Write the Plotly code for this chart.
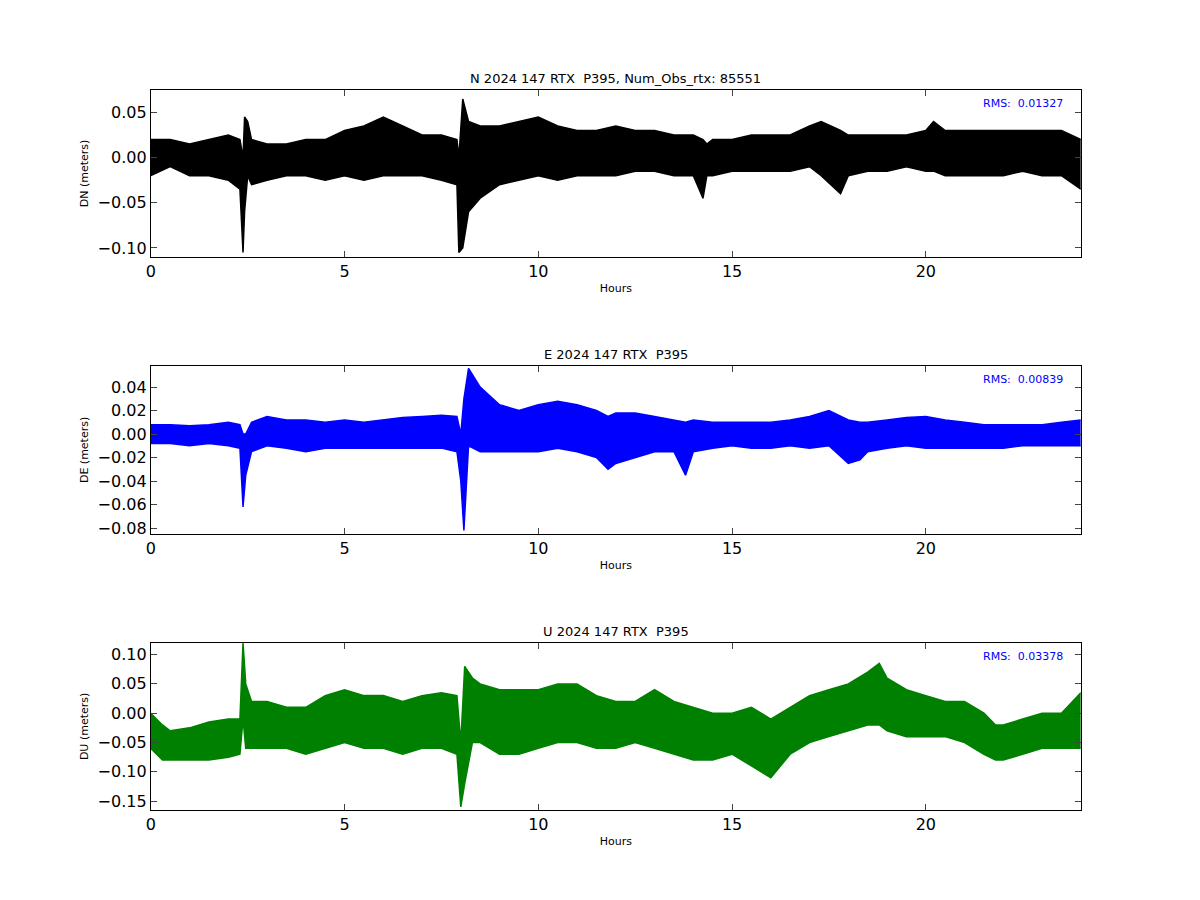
import plotly.graph_objects as go

# envelope of the scatter cloud (hours, upper, lower)
t_n = [0,0.5,1,1.5,2,2.3,2.38,2.42,2.5,2.6,3,3.5,4,4.5,5,5.5,6,6.5,7,7.5,7.9,7.95,8.05,8.2,8.5,9,9.5,10,10.5,11,
       11.5,12,12.5,13,13.5,14,14.25,14.35,14.5,15,15.5,16,16.5,17,17.3,17.8,18,18.5,19,19.5,20,20.2,20.5,21,21.5,22,22.5,23,23.5,24]
up_n = [0.02,0.02,0.015,0.02,0.025,0.02,0.0,0.045,0.04,0.02,0.015,0.015,0.02,0.02,0.03,0.035,0.045,0.035,0.025,0.025,
        0.02,0.0,0.065,0.04,0.035,0.035,0.04,0.045,0.035,0.03,0.03,0.035,0.03,0.03,0.025,0.025,0.02,0.015,0.02,0.02,
        0.025,0.025,0.025,0.035,0.04,0.03,0.025,0.025,0.025,0.025,0.03,0.04,0.03,0.03,0.03,0.03,0.03,0.03,0.03,0.02]
lo_n = [-0.02,-0.01,-0.02,-0.02,-0.025,-0.035,-0.105,-0.06,-0.02,-0.03,-0.025,-0.02,-0.02,-0.025,-0.02,-0.025,-0.02,-0.02,-0.02,-0.025,
        -0.03,-0.105,-0.1,-0.06,-0.045,-0.03,-0.025,-0.02,-0.025,-0.02,-0.02,-0.02,-0.015,-0.015,-0.02,-0.02,-0.045,-0.02,-0.02,-0.015,
        -0.015,-0.015,-0.015,-0.01,-0.02,-0.04,-0.02,-0.015,-0.015,-0.01,-0.015,-0.015,-0.02,-0.02,-0.02,-0.02,-0.015,-0.02,-0.02,-0.035]

t_e = [0,0.5,1,1.5,2,2.3,2.38,2.45,2.6,3,3.5,4,4.5,5,5.5,6,6.5,7,7.5,7.9,8.0,8.08,8.2,8.5,9,9.5,10,10.5,11,11.5,
       11.8,12,12.5,13,13.5,13.8,14,14.5,15,15.5,16,16.5,17,17.5,18,18.3,18.5,19,19.5,20,20.5,21,21.5,22,22.5,23,23.5,24]
up_e = [0.008,0.008,0.007,0.008,0.01,0.008,0.0,0.0,0.01,0.015,0.012,0.012,0.01,0.012,0.01,0.012,0.014,0.015,0.016,0.015,
        0.0,0.03,0.056,0.04,0.025,0.02,0.025,0.028,0.025,0.02,0.015,0.018,0.018,0.015,0.012,0.01,0.012,0.01,0.01,0.01,
        0.01,0.012,0.015,0.02,0.012,0.01,0.01,0.012,0.014,0.015,0.012,0.01,0.008,0.008,0.008,0.008,0.01,0.012]
lo_e = [-0.008,-0.008,-0.01,-0.008,-0.01,-0.012,-0.062,-0.035,-0.015,-0.01,-0.012,-0.015,-0.012,-0.012,-0.012,-0.012,-0.012,-0.012,-0.012,-0.015,
        -0.04,-0.082,-0.01,-0.015,-0.015,-0.015,-0.015,-0.012,-0.015,-0.02,-0.03,-0.025,-0.02,-0.015,-0.015,-0.035,-0.015,-0.012,-0.01,-0.012,
        -0.012,-0.01,-0.012,-0.01,-0.025,-0.022,-0.015,-0.012,-0.01,-0.012,-0.012,-0.012,-0.012,-0.012,-0.01,-0.01,-0.01,-0.01]

t_u = [0,0.3,0.5,1,1.5,2,2.3,2.38,2.45,2.6,3,3.5,4,4.5,5,5.5,6,6.5,7,7.5,7.9,8.0,8.1,8.3,8.5,9,9.5,10,10.5,11,
       11.5,12,12.5,13,13.5,14,14.5,15,15.5,16,16.5,17,17.5,18,18.5,18.8,19,19.5,20,20.5,21,21.5,21.8,22,22.5,23,23.5,24]
up_u = [0.0,-0.02,-0.03,-0.025,-0.015,-0.01,-0.01,0.12,0.05,0.02,0.02,0.01,0.01,0.03,0.04,0.03,0.03,0.02,0.03,0.035,
        0.03,-0.05,0.08,0.06,0.05,0.04,0.04,0.04,0.05,0.05,0.03,0.02,0.02,0.04,0.02,0.01,0.0,0.0,0.01,-0.01,
        0.01,0.03,0.04,0.05,0.07,0.085,0.06,0.04,0.03,0.02,0.02,0.0,-0.02,-0.02,-0.01,0.0,0.0,0.035]
lo_u = [-0.06,-0.08,-0.08,-0.08,-0.08,-0.075,-0.07,-0.01,-0.06,-0.06,-0.06,-0.06,-0.07,-0.06,-0.05,-0.06,-0.06,-0.07,-0.06,-0.06,
        -0.07,-0.16,-0.12,-0.05,-0.05,-0.07,-0.07,-0.06,-0.05,-0.05,-0.06,-0.06,-0.05,-0.06,-0.07,-0.08,-0.08,-0.07,-0.09,-0.11,
        -0.07,-0.05,-0.04,-0.03,-0.02,-0.02,-0.03,-0.04,-0.04,-0.04,-0.05,-0.07,-0.08,-0.08,-0.07,-0.06,-0.06,-0.06]

titles = ["N 2024 147 RTX  P395, Num_Obs_rtx: 85551", "E 2024 147 RTX  P395", "U 2024 147 RTX  P395"]
ylabels = ["DN (meters)", "DE (meters)", "DU (meters)"]
rms = ["RMS:  0.01327", "RMS:  0.00839", "RMS:  0.03378"]
colors = ["black", "blue", "green"]

panels = [(t_n, up_n, lo_n), (t_e, up_e, lo_e), (t_u, up_u, lo_u)]
domains = [(0.7234, 0.909), (0.4157, 0.6023), (0.109, 0.2946)]
xdom = [0.119, 0.894]
yranges = [(-0.11, 0.075), (-0.085, 0.058), (-0.165, 0.12)]
ydticks = [0.05, 0.02, 0.05]

fig = go.Figure()
layout = dict(width=1200, height=900, paper_bgcolor="white", plot_bgcolor="white",
              margin=dict(l=0, r=0, t=0, b=0), showlegend=False,
              font=dict(family="DejaVu Sans", color="black"))
annotations = []
for i, (t, up, lo) in enumerate(panels):
    n = str(i + 1) if i else ""
    xa, ya = "x" + n, "y" + n
    fig.add_trace(go.Scatter(x=t, y=lo, mode="lines", line=dict(color=colors[i], width=1.5),
                             xaxis=xa, yaxis=ya))
    fig.add_trace(go.Scatter(x=t, y=up, mode="lines", line=dict(color=colors[i], width=1.5),
                             fill="tonexty", fillcolor=colors[i], xaxis=xa, yaxis=ya))
    axstyle = dict(showline=True, linecolor="black", linewidth=1, mirror="ticks", ticks="inside",
                   ticklen=6, showgrid=False, zeroline=False, tickfont=dict(size=16), automargin=False)
    layout["xaxis" + n] = dict(axstyle, domain=xdom, range=[0, 24], dtick=5, anchor=ya,
                               title=dict(text="Hours", font=dict(size=11), standoff=4))
    layout["yaxis" + n] = dict(axstyle, domain=list(domains[i]), range=list(yranges[i]), dtick=ydticks[i],
                               tickformat=".2f", anchor=xa,
                               title=dict(text=ylabels[i], font=dict(size=11), standoff=6))
    annotations.append(dict(text=titles[i], x=(xdom[0] + xdom[1]) / 2, y=domains[i][1], xref="paper", yref="paper",
                            xanchor="center", yanchor="bottom", yshift=2, showarrow=False,
                            font=dict(size=13)))
    annotations.append(dict(text=rms[i], x=xdom[1] - 0.013, y=domains[i][1] - 0.006, xref="paper", yref="paper",
                            xanchor="right", yanchor="top", showarrow=False,
                            font=dict(size=11, color="blue")))
layout["annotations"] = annotations
fig.update_layout(**layout)
fig.write_html("out.html")
